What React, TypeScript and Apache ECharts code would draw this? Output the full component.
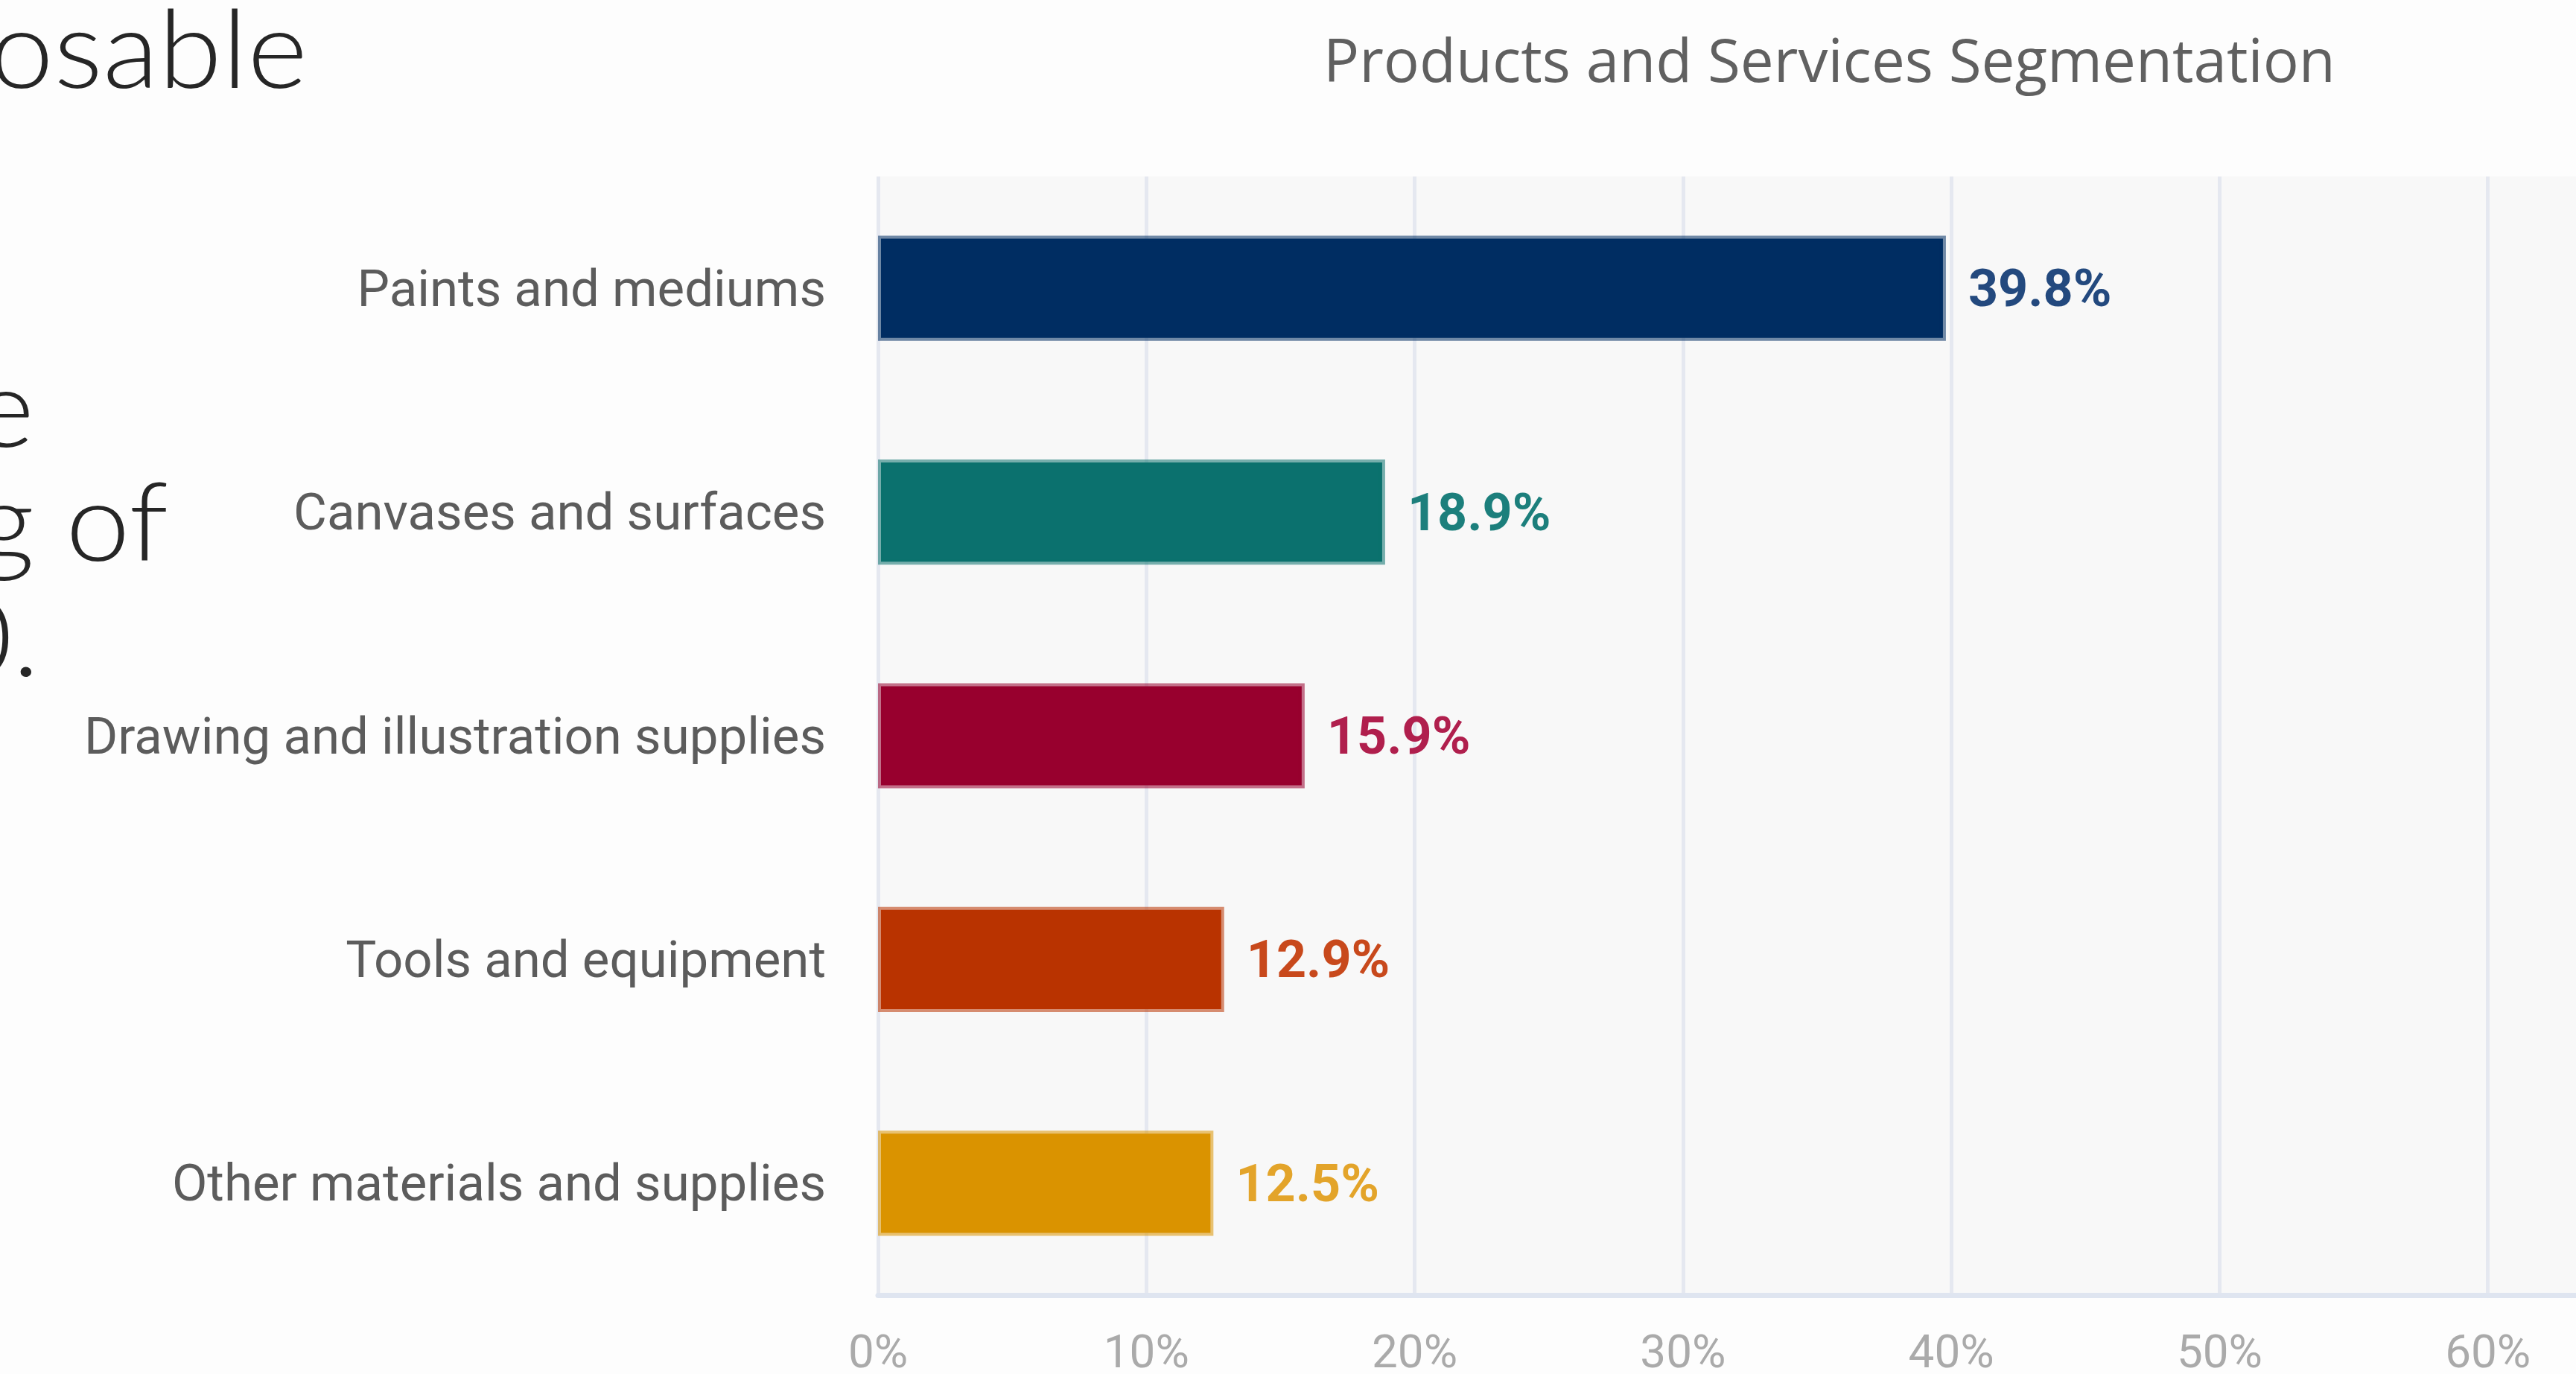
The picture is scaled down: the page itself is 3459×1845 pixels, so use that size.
import React, { useEffect, useRef } from "react";
import * as echarts from "echarts";

const categories = [
  "Paints and mediums",
  "Canvases and surfaces",
  "Drawing and illustration supplies",
  "Tools and equipment",
  "Other materials and supplies",
];
const shares = [39.8, 18.9, 15.9, 12.9, 12.5];
const barColors = ["#002d62", "#0b716e", "#98002e", "#b93300", "#da9300"];
const labelColors = ["#23497e", "#1c7f7c", "#b01f4d", "#c8491c", "#e3a42a"];
const axisMin = 0;
const axisMax = 70;
const axisStep = 10;

const titleText = "Products and Services Segmentation";
const sideTexts = ["osable", "e", "g of", "0."];

function withAlpha(hex: string, a: number) {
  const n = parseInt(hex.slice(1), 16);
  return `rgba(${(n >> 16) & 255},${(n >> 8) & 255},${n & 255},${a})`;
}

export default function App() {
  const ref = useRef<HTMLDivElement>(null);
  useEffect(() => {
    if (!ref.current) return;
    const chart = echarts.init(ref.current, null, { renderer: "svg" });
    const sidePos = [
      { x: 413, y: 62 },
      { x: 46, y: 544 },
      { x: 226, y: 697 },
      { x: 53, y: 852 },
    ];
    chart.setOption({
      animation: false,
      backgroundColor: "#fdfdfd",
      grid: {
        left: 1179,
        top: 237,
        bottom: 88,
        right: 99,
        show: true,
        backgroundColor: "#f8f8f8",
        borderWidth: 0,
      },
      xAxis: {
        type: "value",
        min: axisMin,
        max: axisMax,
        interval: axisStep,
        axisLine: { show: true, lineStyle: { color: "#dfe5f0", width: 7 } },
        axisTick: { show: false },
        axisLabel: {
          formatter: "{value}%",
          fontFamily: "Roboto",
          fontSize: 62,
          color: "#aaaaaa",
          margin: 44,
        },
        splitLine: { show: true, lineStyle: { color: "#e5e8f0", width: 5 } },
      },
      yAxis: {
        type: "category",
        inverse: true,
        data: categories,
        axisLine: { show: false },
        axisTick: { show: false },
        axisLabel: {
          fontFamily: "Roboto",
          fontSize: 69,
          color: "#5c5c5c",
          margin: 70,
        },
      },
      series: [
        {
          type: "bar",
          barWidth: "47%",
          data: shares.map((v, i) => ({
            value: v,
            itemStyle: {
              color: barColors[i],
              borderColor: withAlpha(barColors[i], 0.55),
              borderWidth: 8,
            },
            label: { color: labelColors[i] },
          })),
          label: {
            show: true,
            position: "right",
            distance: 30,
            formatter: "{c}%",
            fontFamily: "Roboto",
            fontWeight: "bold",
            fontSize: 70,
          },
        },
      ],
      graphic: [
        {
          type: "text",
          left: 1777,
          top: 38,
          style: {
            text: titleText,
            fontFamily: "Open Sans",
            fontSize: 80,
            fill: "#606060",
          },
        },
        ...sideTexts.map((t, i) => ({
          type: "text",
          x: sidePos[i].x,
          y: sidePos[i].y,
          scaleX: 1.06,
          style: {
            text: t,
            fontFamily: "Lato",
            fontWeight: 300,
            fontSize: 146,
            fill: "#262626",
            textAlign: "right",
            textVerticalAlign: "middle",
          },
        })),
      ],
    });
    return () => chart.dispose();
  }, []);
  return (
    <div
      style={{
        position: "absolute",
        left: 0,
        top: 0,
        width: 3459,
        height: 1845,
        overflow: "hidden",
        background: "#ffffff",
      }}
    >
      <div ref={ref} style={{ width: 3800, height: 1845 }} />
    </div>
  );
}
